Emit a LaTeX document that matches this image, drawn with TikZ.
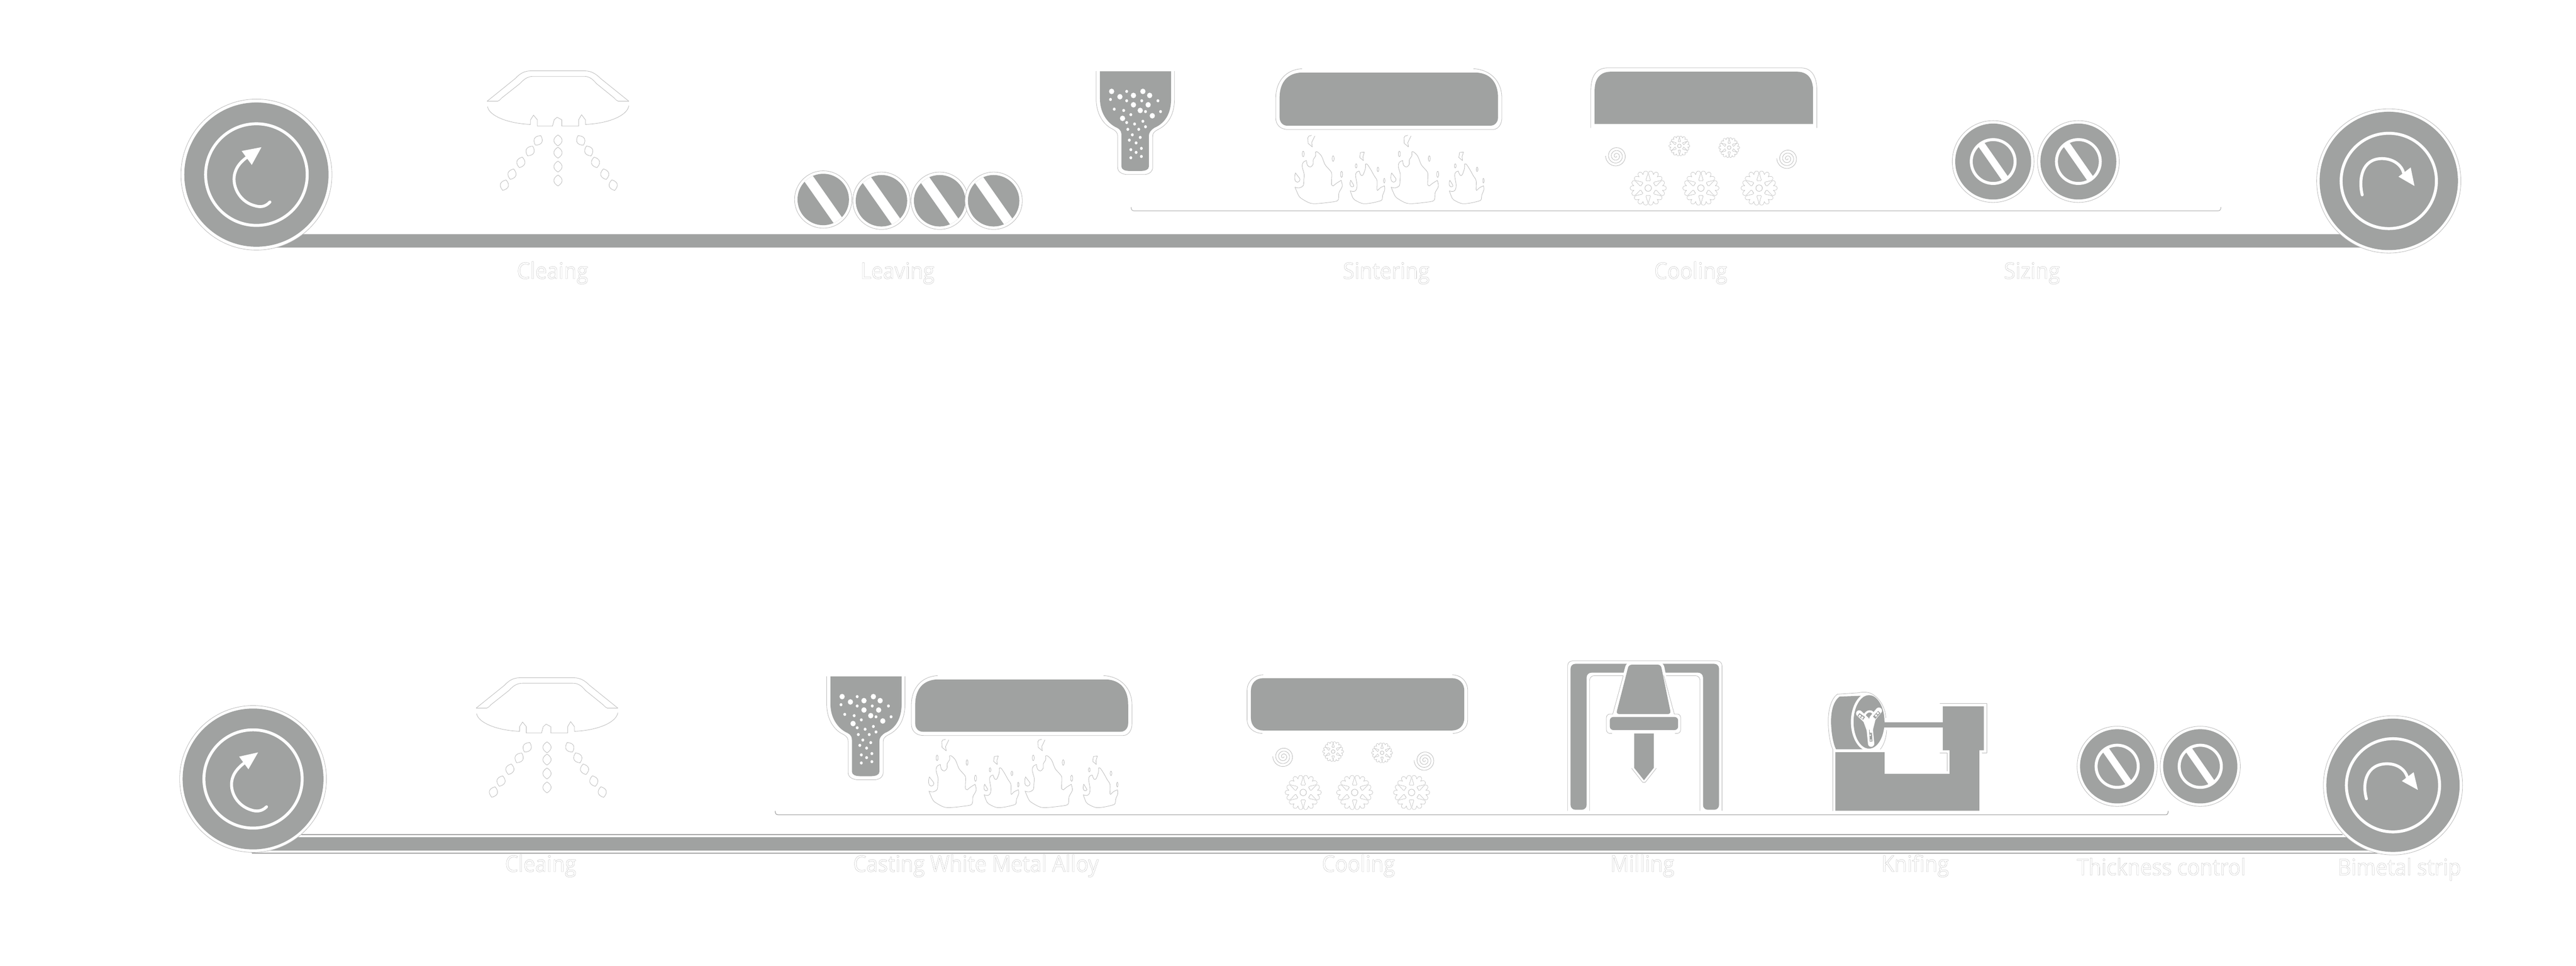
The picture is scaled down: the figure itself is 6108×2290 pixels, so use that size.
\documentclass[tikz,border=0pt]{standalone}
\usepackage{fontspec}
\setmainfont{Open Sans}
\newfontfamily\labfont[FakeStretch=0.925]{Open Sans}
\definecolor{metal}{HTML}{A0A2A1}
\definecolor{lineC}{HTML}{BABABA}
\definecolor{stripL}{HTML}{A4A4A4}
\newcommand{\ot}[1]{\special{pdf:code q 1 Tr 0.09 w 0.66 G}#1\special{pdf:code Q}}
\tikzset{
  outl/.style={draw=lineC,line width=0.28pt,line cap=round,line join=round},
  rule/.style={draw=stripL,line width=0.42pt},
  solidm/.style={fill=metal,draw=none},
  wl/.style={draw=white,line width=#1*0.2835pt,line cap=round,line join=round},
  lab/.style={inner sep=0pt,anchor=base,font=\labfont\fontsize{15.2}{18}\selectfont},
}
% ---- roll: cx cy Rfill Rout Rring
\newcommand{\roll}[5]{
  \draw[outl,fill=white] (#1,#2) circle (#4);
  \fill[metal] (#1,#2) circle (#3);
  \draw[wl=7] (#1,#2) circle (#5);
}
% ---- levelling roller: cx cy
\newcommand{\levroll}[2]{
  \draw[outl,fill=white] (#1,#2) circle (68);
  \fill[metal] (#1,#2) circle (61);
  \begin{scope}
    \clip (#1,#2) circle (61);
    \draw[wl=24] ({#1-66},{#2-94}) -- ({#1+66},{#2+94});
  \end{scope}
}
% ---- sizing roller: cx cy Rfill Rout Rring
\newcommand{\sizroll}[5]{
  \draw[outl,fill=white] (#1,#2) circle (#4);
  \fill[metal] (#1,#2) circle (#3);
  \draw[wl=7] (#1,#2) circle (#5);
  \begin{scope}
    \clip (#1,#2) circle (#5);
    \draw[wl=17] ({#1-46},{#2-66}) -- ({#1+46},{#2+66});
  \end{scope}
}
% ---- sprayer
\newcommand{\dropp}[3]{\draw[outl,shift={(#1,#2)},rotate=#3] (0,-13) .. controls (13,-5) and (13,5) .. (0,13) .. controls (-13,5) and (-13,-5) .. (0,-13);}
\newcommand{\sprayer}[2]{
 \begin{scope}[shift={(#1,#2)}]
  \draw[outl] (1180,240) -- (1155,240) -- (1222,186) .. controls (1232,175) and (1243,168) .. (1259,168) -- (1386,168) .. controls (1402,168) and (1413,175) .. (1424,186) -- (1491,240) -- (1466,240);
  \draw[outl] (1180,240) .. controls (1184,239) and (1186,236) .. (1190,232) -- (1233,198) .. controls (1243,187) and (1252,181) .. (1265,181) -- (1384,181) .. controls (1397,181) and (1405,187) .. (1414,198) -- (1456,232) .. controls (1460,236) and (1462,239) .. (1466,240);
  \draw[outl] (1156,253) .. controls (1160,275) and (1205,293) .. (1258,295) -- (1258,284) -- (1265,273) -- (1274,284) -- (1274,299) -- (1301,299) -- (1310,299) -- (1314,284) -- (1321,278) -- (1332,284) -- (1332,299) -- (1372,299) -- (1372,284) -- (1379,272) -- (1388,284) -- (1388,295) .. controls (1441,293) and (1487,275) .. (1491,251);
  \foreach \a/\b in {1323/333,1323/362,1323/395,1323/428}{\dropp{\a}{\b}{0}}
  \foreach \a/\b/\c in {1276/333/-30,1257/358/-28,1235/385/-15,1214/413/-18,1196/439/-18,1377/333/30,1396/358/25,1412/385/15,1434/413/15,1454/439/15}{\dropp{\a}{\b}{\c}}
 \end{scope}
}
% ---- hopper (zoom coords)
\newcommand{\hopper}[2]{
 \begin{scope}[shift={(#1,#2)},xscale=0.8929,yscale=0.3827]
  \fill[metal] (905,180) -- (905,350) .. controls (905,450) and (930,510) .. (950,530) .. controls (962,545) and (962,560) .. (962,580) -- (962,770) .. controls (962,790) and (972,798) .. (985,798) -- (1012,798) .. controls (1025,798) and (1035,790) .. (1035,770) -- (1035,580) .. controls (1035,560) and (1040,545) .. (1050,530) .. controls (1075,505) and (1094,450) .. (1094,350) -- (1094,180) -- cycle;
  \draw[outl] (895,180) -- (895,350) .. controls (895,460) and (920,520) .. (940,540) .. controls (950,555) and (952,565) .. (952,585) -- (952,775) .. controls (952,800) and (960,815) .. (975,820) -- (1025,820) .. controls (1038,815) and (1045,800) .. (1045,775) -- (1045,585) .. controls (1045,565) and (1048,555) .. (1060,540) .. controls (1082,515) and (1103,460) .. (1103,350) -- (1103,180);
  \foreach \a/\b in {936/305,1019/305,958/338,994/330,1037/330,994/388,1033/388,1012/423,1044/456,965/472}{\fill[white] (\a,\b) ellipse (7 and 17);}
  \foreach \a/\b in {976/305,933/355,976/363,1016/363,1059/363,943/415,968/423,1026/430,1066/430,987/449,976/498,1019/490,997/507,1026/524,979/540,1008/540,991/574,1012/590,983/607,1001/624,1015/658,987/666,1001/683,987/716,1015/708}{\fill[white] (\a,\b) ellipse (3.8 and 9.5);}
 \end{scope}
}
% ---- oven body: x0 x1 y0 y1
\newcommand{\oven}[4]{
  \fill[metal] (#1,{#3+60}) .. controls (#1,{#3+22}) and ({#1+20},#3) .. ({#1+55},#3) -- ({#2-55},#3) .. controls ({#2-20},#3) and (#2,{#3+22}) .. (#2,{#3+60}) -- (#2,{#4-20}) .. controls (#2,{#4-8}) and ({#2-8},#4) .. ({#2-18},#4) -- ({#1+18},#4) .. controls ({#1+8},#4) and (#1,{#4-8}) .. (#1,{#4-20}) -- cycle;
  \draw[outl] ({#1+53},{#3-9}) .. controls ({#1+14},{#3-7}) and ({#1-9},{#3+22}) .. ({#1-9},{#3+60}) -- ({#1-9},{#4-18}) .. controls ({#1-9},{#4-3}) and ({#1+1},{#4+9}) .. ({#1+20},{#4+9}) -- ({#2-12},{#4+9}) .. controls ({#2},{#4+9}) and ({#2+9},{#4-3}) .. ({#2+9},{#4-18}) -- ({#2+9},{#3+60}) .. controls ({#2+9},{#3+22}) and ({#2-17},{#3-7}) .. ({#2-58},{#3-9});
}
% ---- flames (zoom-11 coords)
\newcommand{\flameB}[2]{
 \begin{scope}[shift={(#1,#2)},scale=0.3333]
  \draw[outl] plot[smooth,tension=.55] coordinates {(62,402)(90,407)(120,390)(125,345)(127,310)(113,255)(120,225)(143,212)};
  \draw[outl] plot[smooth,tension=.55] coordinates {(143,212)(150,245)(170,258)(190,240)(192,205)(208,180)(208,152)};
  \draw[outl] plot[smooth,tension=.55] coordinates {(208,152)(220,150)(250,180)(275,240)(300,270)(322,300)(322,350)(322,385)(335,392)};
  \draw[outl] plot[smooth,tension=.55] coordinates {(335,392)(355,375)(390,353)};
  \draw[outl] plot[smooth,tension=.55] coordinates {(390,353)(398,395)(375,440)(372,480)(360,500)(300,510)(220,518)(170,515)(120,490)(90,465)(62,402)};
  \draw[outl] (180,33) -- (160,38) -- (153,50) -- (155,90) -- (185,115) -- (180,85) -- (203,37);
  \draw[outl] (393,310) ellipse (7 and 22);
  \draw[outl] (120,165) ellipse (7 and 20);
  \draw[outl] (333,198) ellipse (7 and 20);
  \draw[outl] (65,300) .. controls (55,330) and (58,365) .. (78,366) .. controls (95,366) and (100,345) .. (95,340) .. controls (85,325) and (75,315) .. (65,300);
 \end{scope}
}
\newcommand{\flameS}[2]{
 \begin{scope}[shift={(#1,#2)},scale=0.3333]
  \draw[outl] plot[smooth,tension=.55] coordinates {(455,428)(480,432)(497,420)(503,385)(493,320)(500,295)(518,287)};
  \draw[outl] plot[smooth,tension=.55] coordinates {(518,287)(530,315)(545,315)(562,270)(563,238)};
  \draw[outl] plot[smooth,tension=.55] coordinates {(563,238)(575,238)(600,275)(625,320)(645,355)(645,420)(652,422)};
  \draw[outl] plot[smooth,tension=.55] coordinates {(652,422)(670,405)(698,392)};
  \draw[outl] plot[smooth,tension=.55] coordinates {(698,392)(700,420)(685,460)(682,488)(665,500)(600,515)(545,518)(500,500)(475,480)(455,428)};
  \draw[outl] (555,152) -- (527,155) -- (522,190) -- (548,212) -- (545,185) -- cycle;
  \draw[outl] (497,250) ellipse (6 and 15);
  \draw[outl] (652,275) ellipse (6 and 16);
  \draw[outl] (697,355) ellipse (5 and 17);
  \draw[outl] (458,352) .. controls (450,375) and (452,395) .. (465,398) .. controls (478,400) and (484,392) .. (480,388) -- cycle;
 \end{scope}
}
% ---- snowflake: cx cy R  (outline made of two stroke passes)
\newcommand{\flakeskel}[3]{
  \foreach \an in {0,60,...,300}{
    \draw[line width=#1*0.2835pt,draw=#2,line cap=round,line join=round,rotate around={\an:(0,0)}] (0,0) -- ({#3*0.90},0) ({#3*0.52},0) -- ({#3*0.80},{#3*0.30}) ({#3*0.52},0) -- ({#3*0.80},{-#3*0.30});
  }
}
\newcommand{\flake}[3]{
 \begin{scope}[shift={(#1,#2)}]
  \pgfmathsetmacro{\fs}{#3/42}
  \pgfmathsetmacro{\wa}{9.5*\fs+1.8}
  \pgfmathsetmacro{\wb}{9.5*\fs}
  \pgfmathsetmacro{\rb}{17*\fs}
  \pgfmathsetmacro{\rh}{7.7*\fs}
  \fill[lineC] (0,0) circle ({\rb+0.9});
  \flakeskel{\wa}{lineC}{#3}
  \flakeskel{\wb}{white}{#3}
  \fill[white] (0,0) circle (\rb);
  \draw[outl] (0,0) circle (\rh);
 \end{scope}
}
\newcommand{\swirl}[2]{
  \draw[outl] plot[domain=0:1260,samples=160,smooth] ({#1+(1+\x/52.5)*cos(\x)},{#2+(1+\x/52.5)*sin(\x)});
}
\begin{document}
\begin{tikzpicture}[x=0.01cm,y=-0.01cm]
\useasboundingbox (0,0) rectangle (6108,2290);
\fill[white] (0,0) rectangle (6108,2290);

% ===== TOP ROW =====
\draw[solidm,draw=lineC!70,line width=0.3pt] (620,555) rectangle (5650,587);
\draw[rule,draw=lineC] (2682,491) .. controls (2682,497) and (2684,500) .. (2690,500) -- (5258,500) .. controls (5264,500) and (5266,497) .. (5266,491);
\roll{608}{414}{171}{179}{120.5}
\fill[white] (620,349) -- (573,358) -- (597,391) -- cycle;
\draw[wl=7] (640,479) .. controls (628,492) and (615,491) .. (605,488) .. controls (572,480) and (555,450) .. (555,425) .. controls (555,405) and (565,388) .. (584,374);
\roll{5664}{429}{164}{171}{113}
\draw[wl=7] (5601,462) .. controls (5592,425) and (5600,376) .. (5648,376) .. controls (5675,376) and (5695,392) .. (5699,410);
\fill[white] (5725,441) -- (5716,397) -- (5687,419) -- cycle;

\sprayer{0}{0}
\levroll{1952}{473}
\levroll{2090}{476}
\levroll{2228}{476}
\levroll{2356}{476}
\hopper{1800}{100}
\oven{3034}{3552}{172}{298}
\flameB{3050}{310}
\flameS{3050}{310}
\flameB{3278}{310}
\flameS{3285}{310}
\fill[metal] (3781,294) -- (3781,215) .. controls (3781,185) and (3795,170) .. (3820,170) -- (4260,170) .. controls (4285,170) and (4299,185) .. (4299,215) -- (4299,294) -- cycle;
\draw[outl] (3772,303) -- (3772,215) .. controls (3772,180) and (3785,162) .. (3810,161) -- (4272,161) .. controls (4295,162) and (4308,180) .. (4308,215) -- (4308,303);
\swirl{3832}{370}
\swirl{4238}{376}
\flake{3982}{346}{24}
\flake{4100}{350}{24}
\flake{3908}{446}{42}
\flake{4033}{446}{42}
\flake{4171}{446}{42}
\sizroll{4726}{383}{90}{97}{52}
\sizroll{4928}{383}{90}{97}{52}

\node[lab] (t1) at (1310,661) {\ot{Cleaing}};
\node[lab] (t2) at (2128,661) {\ot{Leaving}};
\node[lab] (t3) at (3287,661) {\ot{Sintering}};
\node[lab] (t4) at (4009,661) {\ot{Cooling}};
\node[lab] (t5) at (4818,661) {\ot{Sizing}};

% ===== BOTTOM ROW =====
\draw[rule] (715,1979) -- (5554,1979);
\draw[rule] (597,2023) -- (5638,2023);
\fill[metal] (620,1985) rectangle (5650,2017);
\draw[rule] (1838,1923) .. controls (1838,1929) and (1840,1932) .. (1846,1932) -- (5135,1932) .. controls (5139,1932) and (5141,1929) .. (5141,1923);
\roll{600}{1847}{167}{174}{116.5}
\fill[white] (612,1784) -- (567,1794) -- (589,1824) -- cycle;
\draw[wl=7] (632,1913) .. controls (620,1925) and (607,1924) .. (597,1921) .. controls (566,1912) and (549,1885) .. (549,1860) .. controls (549,1840) and (560,1824) .. (578,1810);
\roll{5674}{1862}{158}{165}{110.5}
\draw[wl=7] (5611,1894) .. controls (5600,1855) and (5612,1811) .. (5660,1811) .. controls (5685,1811) and (5703,1825) .. (5708,1843);
\fill[white] (5733,1873) -- (5723,1831) -- (5695,1852) -- cycle;

\sprayer{-26}{1439}
\hopper{1161}{1535}
\oven{2170}{2675}{1611}{1735}
\flameB{2182}{1742}
\flameS{2182}{1742}
\flameB{2410}{1742}
\flameS{2417}{1742}
% cooling box, fully rounded
\fill[metal] (2966,1638) .. controls (2966,1620) and (2978,1608) .. (2995,1608) -- (3443,1608) .. controls (3460,1608) and (3472,1620) .. (3472,1638) -- (3472,1702) .. controls (3472,1720) and (3460,1732) .. (3443,1732) -- (2995,1732) .. controls (2978,1732) and (2966,1720) .. (2966,1702) -- cycle;
\draw[outl] (2995,1600) .. controls (2972,1601) and (2957,1617) .. (2957,1637) -- (2957,1707) .. controls (2957,1725) and (2972,1738) .. (2993,1739);
\draw[outl] (3444,1600) .. controls (3466,1601) and (3480,1617) .. (3480,1637) -- (3480,1707) .. controls (3480,1725) and (3466,1738) .. (3445,1739);
\swirl{3043}{1794}
\swirl{3378}{1803}
\flake{3161}{1782}{24}
\flake{3277}{1785}{24}
\flake{3090}{1879}{42}
\flake{3212}{1879}{42}
\flake{3347}{1879}{42}
% milling machine
\fill[metal,rounded corners=3.2pt] (3724,1920) -- (3724,1574) -- (4076,1574) -- (4076,1920) -- (4038,1920) -- (4038,1595) -- (3762,1595) -- (3762,1920) -- cycle;
\draw[outl,rounded corners=3.2pt] (3717,1922) -- (3717,1567) -- (4083,1567) -- (4083,1922);
\draw[outl,rounded corners=3.2pt] (3769,1922) -- (3769,1602) -- (3849,1602);
\draw[outl,rounded corners=3.2pt] (4031,1922) -- (4031,1602) -- (3945,1602);
\draw[wl=14,rounded corners=2pt] (3832,1693) -- (3862,1576) -- (3938,1576) -- (3962,1693) -- cycle;
\fill[metal,rounded corners=2pt] (3832,1693) -- (3862,1576) -- (3938,1576) -- (3962,1693) -- cycle;
\draw[outl] (3849,1602) -- (3824,1693);
\draw[outl] (3945,1602) -- (3970,1693);
\fill[metal,rounded corners=2.4pt] (3817,1700) rectangle (3979,1731);
\draw[outl,rounded corners=2.4pt] (3824,1693) -- (3809,1693) -- (3809,1739) -- (3822,1739);
\draw[outl,rounded corners=2.4pt] (3970,1693) -- (3985,1693) -- (3985,1739) -- (3972,1739);
\fill[metal] (3875,1739) -- (3921,1739) -- (3921,1821) -- (3898,1850) -- (3875,1821) -- cycle;
\draw[outl] (3869,1822) -- (3895,1855) -- (3901,1855) -- (3927,1822);
% lathe (zoom-8 coords)
\begin{scope}[shift={(4300,1620)},scale=0.3333]
  \fill[metal] (155,490) -- (505,490) -- (505,645) -- (968,645) -- (968,477) -- (920,477) -- (920,165) -- (1212,165) -- (1212,477) -- (1180,477) -- (1180,907) -- (155,907) -- cycle;
  \draw[outl] (137,470) -- (137,907);
  \draw[outl] (900,145) -- (1232,145) -- (1232,495) -- (1200,495);
  \draw[outl] (900,495) -- (950,495) -- (950,625);
  \begin{scope}
    \clip (0,0) rectangle (700,470);
    \fill[metal] (320,90) -- (185,95) .. controls (140,130) and (125,200) .. (125,270) .. controls (125,350) and (140,430) .. (160,470) -- (400,470) -- (400,90) -- cycle;
    \fill[white] (395,275) ellipse (129 and 208);
    \fill[metal] (395,275) ellipse (110 and 190);
    \draw[wl=15] (325,215) -- (375,262) -- (400,330) -- (410,430);
    \draw[wl=15] (465,195) -- (420,250) -- (400,330);
    \draw[wl=5] (360,235) .. controls (375,190) and (420,190) .. (430,225);
    \draw[draw=metal,line width=2.2pt] (320,222) -- (360,250);
    \draw[draw=metal,line width=2.2pt] (468,205) -- (432,245);
    \draw[draw=metal,line width=1.8pt] (405,330) -- (410,415);
    \fill[white] (330,232) circle (8) (347,244) circle (8) (445,230) circle (8) (458,213) circle (8) (404,370) circle (6) (408,405) circle (6);
    \draw[wl=6] (410,280) -- (410,345);
  \end{scope}
  \fill[metal] (455,278) rectangle (920,313);
  \draw[outl] (137,470) .. controls (115,420) and (105,340) .. (105,270) .. controls (105,190) and (125,110) .. (170,78) -- (320,68) .. controls (350,60) and (400,60) .. (430,85) .. controls (480,120) and (510,180) .. (515,245);
  \draw[outl] (520,335) .. controls (518,390) and (500,440) .. (475,470);
\end{scope}
\sizroll{5020}{1817}{88}{95}{50}
\sizroll{5217}{1817}{88}{95}{50}

\node[lab] (b1) at (1282,2067) {\ot{Cleaing}};
\node[lab] (b2) at (2314,2067) {\ot{Casting White Metal Alloy}};
\node[lab] (b3) at (3221,2067) {\ot{Cooling}};
\node[lab] (b4) at (3894,2067) {\ot{Milling}};
\node[lab] (b5) at (4541,2067) {\ot{Knifing}};
\node[lab] (b6) at (5125,2075) {\ot{Thickness control}};
\node[lab] (b7) at (5689,2075) {\ot{Bimetal strip}};
\end{tikzpicture}
\end{document}
